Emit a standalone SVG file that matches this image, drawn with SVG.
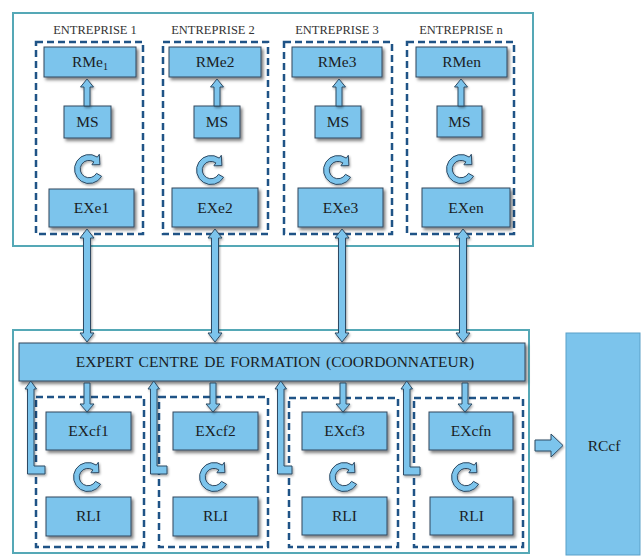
<svg xmlns="http://www.w3.org/2000/svg" xmlns:xlink="http://www.w3.org/1999/xlink" width="642" height="557" viewBox="0 0 642 557">
<defs>
<filter id="sh" x="-15%" y="-15%" width="140%" height="150%">
<feDropShadow dx="2" dy="2.5" stdDeviation="1.5" flood-color="#000" flood-opacity="0.5"/>
</filter>
<filter id="sh2" x="-30%" y="-30%" width="170%" height="170%">
<feDropShadow dx="1" dy="1.5" stdDeviation="1" flood-color="#000" flood-opacity="0.35"/>
</filter>
<path id="cyc" d="M12.6,7.3 A14.5,14.5 0 1 1 8.3,-11.9 L10.3,-14.7 L10.9,-4.4 L2.9,-4.2 L4.9,-7.1 A8.7,8.7 0 1 0 7.5,4.35 Z"/>
</defs>
<style>
.cont{fill:#fff;stroke:#55a8b6;stroke-width:2}
.dash{fill:none;stroke:#1f5386;stroke-width:2.5;stroke-dasharray:7 4}
.box{fill:#7cc4ec;stroke:#33475c;stroke-width:1;filter:url(#sh)}
.big{fill:#7cc4ec;stroke:#5aa0c8;stroke-width:1}
.arr{fill:#7cc4ec;stroke:#2e4a63;stroke-width:1;filter:url(#sh2)}
.cyc{fill:#7cc4ec;stroke:#2e4a63;stroke-width:1;filter:url(#sh2)}
.t{font-size:15.5px;fill:#1a1d24;text-anchor:middle}
.lab{font-size:12.5px;fill:#333;text-anchor:middle}
</style>

<rect class="cont" x="13" y="13" width="520" height="233"/>
<rect class="cont" x="13" y="330" width="516" height="223"/>

<g font-family="'Liberation Serif', 'DejaVu Serif', 'Times New Roman', serif">

<g id="entreprise1">
<text class="lab" x="95" y="34">ENTREPRISE 1</text>
<rect class="dash" x="36" y="42" width="107" height="192"/>
<rect class="box" x="44" y="47" width="92" height="30"/>
<text class="t" x="90" y="67">RMe<tspan font-size="10" dy="3">1</tspan></text>
<rect class="box" x="64" y="106" width="47" height="32"/>
<text class="t" x="87.5" y="127">MS</text>
<use xlink:href="#cyc" class="cyc" x="89" y="169"/>
<rect class="box" x="49" y="189" width="85" height="38"/>
<text class="t" x="91.5" y="213">EXe1</text>
</g>

<g id="entreprise2">
<text class="lab" x="213" y="34">ENTREPRISE 2</text>
<rect class="dash" x="163" y="42" width="105" height="192"/>
<rect class="box" x="169" y="47" width="92" height="30"/>
<text class="t" x="215" y="67">RMe2</text>
<rect class="box" x="194" y="106" width="46" height="32"/>
<text class="t" x="217" y="127">MS</text>
<use xlink:href="#cyc" class="cyc" x="211" y="170"/>
<rect class="box" x="172" y="188" width="86" height="39"/>
<text class="t" x="215" y="213">EXe2</text>
</g>

<g id="entreprise3">
<text class="lab" x="337" y="34">ENTREPRISE 3</text>
<rect class="dash" x="284" y="42" width="108" height="192"/>
<rect class="box" x="292" y="47" width="90" height="30"/>
<text class="t" x="337" y="67">RMe3</text>
<rect class="box" x="315" y="106" width="46" height="32"/>
<text class="t" x="338" y="127">MS</text>
<use xlink:href="#cyc" class="cyc" x="338" y="170"/>
<rect class="box" x="298" y="188" width="85" height="39"/>
<text class="t" x="340.5" y="213">EXe3</text>
</g>

<g id="entreprisen">
<text class="lab" x="461" y="34">ENTREPRISE n</text>
<rect class="dash" x="407" y="42" width="107" height="192"/>
<rect class="box" x="416" y="47" width="91" height="30"/>
<text class="t" x="461.5" y="67">RMen</text>
<rect class="box" x="437" y="106" width="45" height="31"/>
<text class="t" x="459.5" y="127">MS</text>
<use xlink:href="#cyc" class="cyc" x="461" y="169"/>
<rect class="box" x="422" y="188" width="88" height="39"/>
<text class="t" x="466" y="213">EXen</text>
</g>

<g id="coordonnateur">
<rect class="box" x="19" y="343" width="506" height="38"/>
<text class="t" x="275" y="367" font-size="15.5" word-spacing="1.5">EXPERT CENTRE DE FORMATION  (COORDONNATEUR)</text>
</g>

<g id="cf1">
<rect class="dash" x="36" y="397" width="108" height="150"/>
<rect class="box" x="46" y="412" width="85" height="38"/>
<text class="t" x="88.5" y="436">EXcf1</text>
<use xlink:href="#cyc" class="cyc" x="88" y="477"/>
<rect class="box" x="46" y="497" width="85" height="39"/>
<text class="t" x="88.5" y="521">RLI</text>
</g>

<g id="cf2">
<rect class="dash" x="159" y="397" width="109" height="150"/>
<rect class="box" x="173" y="412" width="85" height="38"/>
<text class="t" x="215.5" y="436">EXcf2</text>
<use xlink:href="#cyc" class="cyc" x="214" y="477"/>
<rect class="box" x="173" y="497" width="85" height="39"/>
<text class="t" x="215.5" y="521">RLI</text>
</g>

<g id="cf3">
<rect class="dash" x="289" y="398" width="109" height="149"/>
<rect class="box" x="302" y="412" width="85" height="38"/>
<text class="t" x="344.5" y="436">EXcf3</text>
<use xlink:href="#cyc" class="cyc" x="344" y="477"/>
<rect class="box" x="302" y="497" width="85" height="38"/>
<text class="t" x="344.5" y="521">RLI</text>
</g>

<g id="cfn">
<rect class="dash" x="414" y="398" width="109" height="149"/>
<rect class="box" x="429" y="412" width="84" height="38"/>
<text class="t" x="471" y="436">EXcfn</text>
<use xlink:href="#cyc" class="cyc" x="466" y="477"/>
<rect class="box" x="430" y="497" width="83" height="38"/>
<text class="t" x="471.5" y="521">RLI</text>
</g>

<g id="rccf">
<rect class="big" x="566" y="333" width="74" height="222"/>
<text class="t" x="604" y="451">RCcf</text>
</g>

</g>

<g id="connectors">
<path class="arr" d="M87,79 L93.5,87 L90,87 L90,106 L84,106 L84,87 L80.5,87 Z"/>
<path class="arr" d="M217,79 L223.5,87 L220,87 L220,106 L214,106 L214,87 L210.5,87 Z"/>
<path class="arr" d="M339,79 L345.5,87 L342,87 L342,106 L336,106 L336,87 L332.5,87 Z"/>
<path class="arr" d="M461,79 L467.5,87 L464,87 L464,106 L458,106 L458,87 L454.5,87 Z"/>

<path class="arr" d="M87,229 L94,238 L90.5,238 L90.5,333 L94,333 L87,342 L80,333 L83.5,333 L83.5,238 L80,238 Z"/>
<path class="arr" d="M215,229 L222,238 L218.5,238 L218.5,333 L222,333 L215,342 L208,333 L211.5,333 L211.5,238 L208,238 Z"/>
<path class="arr" d="M342,229 L349,238 L345.5,238 L345.5,333 L349,333 L342,342 L335,333 L338.5,333 L338.5,238 L335,238 Z"/>
<path class="arr" d="M463,229 L470,238 L466.5,238 L466.5,333 L470,333 L463,342 L456,333 L459.5,333 L459.5,238 L456,238 Z"/>

<path class="arr" d="M84,383 L90,383 L90,404 L94,404 L87,412 L80,404 L84,404 Z"/>
<path class="arr" d="M210,383 L216,383 L216,404 L220,404 L213,412 L206,404 L210,404 Z"/>
<path class="arr" d="M340,383 L346,383 L346,404 L350,404 L343,412 L336,404 L340,404 Z"/>
<path class="arr" d="M462,383 L468,383 L468,404 L472,404 L465,412 L458,404 L462,404 Z"/>

<path class="arr" d="M30.75,381 L36.5,389 L34,389 L34,466 L45,466 L45,474 L27.5,474 L27.5,389 L25,389 Z"/>
<path class="arr" d="M153.75,381 L159.5,389 L157,389 L157,466 L167,466 L167,474 L150.5,474 L150.5,389 L148,389 Z"/>
<path class="arr" d="M280.75,381 L286.5,389 L284,389 L284,466 L292,466 L292,474 L277.5,474 L277.5,389 L275,389 Z"/>
<path class="arr" d="M406.75,381 L412.5,389 L410,389 L410,467 L420,467 L420,475 L403.5,475 L403.5,389 L401,389 Z"/>

<path class="arr" d="M535,440 L551,440 L551,434 L563,445.5 L551,457 L551,451 L535,451 Z"/>
</g>
</svg>
